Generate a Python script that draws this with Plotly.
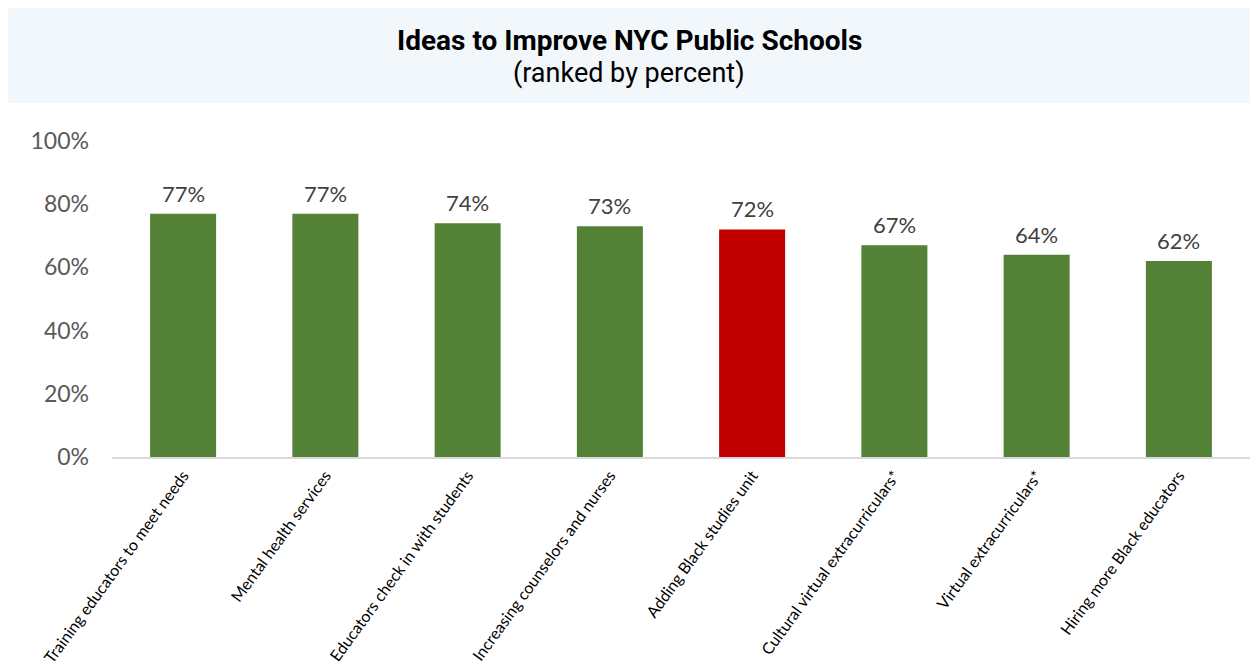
import plotly.graph_objects as go

# Survey results: share supporting each idea
ideas = [
    "Training educators to meet needs",
    "Mental health services",
    "Educators check in with students",
    "Increasing counselors and nurses",
    "Adding Black studies unit",
    "Cultural virtual extracurriculars*",
    "Virtual extracurriculars*",
    "Hiring more Black educators",
]
percent = [77, 77, 74, 73, 72, 67, 64, 62]
highlight = "Adding Black studies unit"

y_ticks = [0, 20, 40, 60, 80, 100]

GREEN = "#538135"
RED = "#C00000"
bar_colors = [RED if name == highlight else GREEN for name in ideas]

# plot area geometry (pixels)
W, H = 1250, 671
L, R, T, B = 112, 0, 141, 214
PW = W - L - R
PH = H - T - B

fig = go.Figure(
    go.Bar(
        x=ideas,
        y=percent,
        marker=dict(color=bar_colors, line=dict(width=0)),
        hoverinfo="skip",
    )
)

# value labels above each bar
value_labels = [
    dict(
        x=name, y=v, text=f"{v}%", xref="x", yref="y",
        showarrow=False, xanchor="center", yanchor="bottom", yshift=5,
        font=dict(family="Lato", size=22, color="#404040"),
    )
    for name, v in zip(ideas, percent)
]

title_x = (629 - L) / PW
fig.update_layout(
    width=W,
    height=H,
    margin=dict(l=L, r=R, t=T, b=B),
    paper_bgcolor="white",
    plot_bgcolor="white",
    bargap=0.536,
    showlegend=False,
    shapes=[
        dict(
            type="rect", xref="paper", yref="paper",
            x0=(8 - L) / PW, x1=1.0, y0=1 + 38 / PH, y1=1 + 133 / PH,
            fillcolor="#F2F7FB", line=dict(width=0), layer="below",
        )
    ],
    annotations=[
        dict(
            text="<b>Ideas to Improve NYC Public Schools</b>",
            xref="paper", yref="paper", x=title_x, y=1 + 101 / PH,
            showarrow=False, xanchor="center", yanchor="middle",
            font=dict(family="Roboto", size=28, color="#000000"),
        ),
        dict(
            text="(ranked by percent)",
            xref="paper", yref="paper", x=title_x, y=1 + 68 / PH,
            showarrow=False, xanchor="center", yanchor="middle",
            font=dict(family="Roboto", size=27, color="#000000"),
        ),
    ] + value_labels,
)

fig.update_xaxes(
    type="category",
    range=[-0.5, 7.5],
    showline=True,
    linecolor="#D9D9D9",
    linewidth=2,
    showgrid=False,
    ticks="",
    tickangle=-54,
    ticklabelstandoff=1,
    tickfont=dict(family="Lato", size=16, color="#000000"),
    automargin=False,
)

fig.update_yaxes(
    range=[0, 100],
    tickvals=y_ticks,
    ticktext=[f"{t}%" for t in y_ticks],
    showgrid=False,
    zeroline=False,
    showline=False,
    ticks="",
    ticklabelstandoff=22,
    tickfont=dict(family="Lato", size=23, color="#595959"),
    automargin=False,
)

fig.write_html("out.html")
